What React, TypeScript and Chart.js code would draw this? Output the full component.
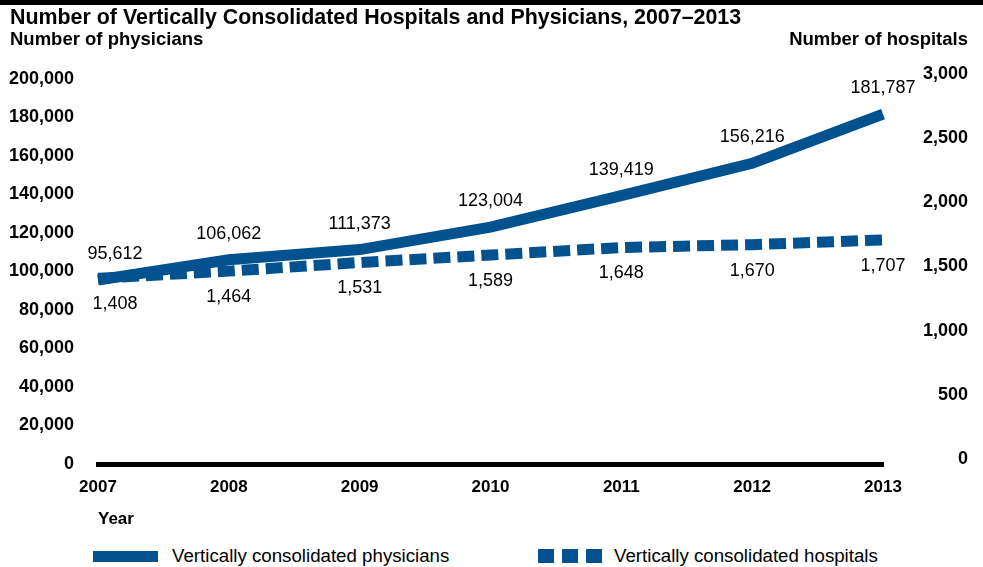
import React, { useEffect, useRef } from 'react';
import { Chart, registerables } from 'chart.js';

Chart.register(...registerables);

const years = ['2007', '2008', '2009', '2010', '2011', '2012', '2013'];
const physicians = [95612, 106062, 111373, 123004, 139419, 156216, 181787];
const hospitals = [1408, 1464, 1531, 1589, 1648, 1670, 1707];
const physicianTicks = [0, 20000, 40000, 60000, 80000, 100000, 120000, 140000, 160000, 180000, 200000];
const hospitalTicks = [0, 500, 1000, 1500, 2000, 2500, 3000];

const TITLE = 'Number of Vertically Consolidated Hospitals and Physicians, 2007–2013';
const LEFT_TITLE = 'Number of physicians';
const RIGHT_TITLE = 'Number of hospitals';
const SERIES_NAMES = ['Vertically consolidated physicians', 'Vertically consolidated hospitals'];

const BLUE = '#02528f';
const FONT = '"Liberation Sans", Arial, Helvetica, sans-serif';

const fmt = (v: number) => Number(v).toLocaleString('en-US');

const headerPlugin = {
  id: 'headerText',
  afterDraw(chart: any) {
    const ctx = chart.ctx;
    ctx.save();
    ctx.fillStyle = '#000';
    ctx.textBaseline = 'middle';
    ctx.font = `bold 21.4px ${FONT}`;
    ctx.textAlign = 'left';
    ctx.fillText(TITLE, 10, 18);
    ctx.font = `bold 18.5px ${FONT}`;
    ctx.fillText(LEFT_TITLE, 10, 40);
    ctx.textAlign = 'right';
    ctx.fillText(RIGHT_TITLE, 968, 40);
    ctx.restore();
  },
};

const valueLabelPlugin = {
  id: 'valueLabels',
  afterDatasetsDraw(chart: any) {
    const ctx = chart.ctx;
    ctx.save();
    ctx.fillStyle = '#000';
    ctx.font = `18px ${FONT}`;
    ctx.textAlign = 'center';
    ctx.textBaseline = 'middle';
    chart.data.datasets.forEach((ds: any, di: number) => {
      const meta = chart.getDatasetMeta(di);
      meta.data.forEach((pt: any, i: number) => {
        const dx = i === 0 ? 17 : 0;
        const dy = di === 0 ? -26 : 26;
        ctx.fillText(fmt(ds.data[i]), pt.x + dx, pt.y + dy);
      });
    });
    ctx.restore();
  },
};

export default function App() {
  const ref = useRef<HTMLCanvasElement | null>(null);

  useEffect(() => {
    if (!ref.current) return;
    const chart = new Chart(ref.current, {
      type: 'line',
      data: {
        labels: years,
        datasets: [
          {
            label: SERIES_NAMES[0],
            data: physicians,
            yAxisID: 'y',
            borderColor: BLUE,
            backgroundColor: BLUE,
            borderWidth: 11,
            pointRadius: 0,
            tension: 0,
            fill: false,
          },
          {
            label: SERIES_NAMES[1],
            data: hospitals,
            yAxisID: 'y1',
            borderColor: BLUE,
            backgroundColor: BLUE,
            borderWidth: 11,
            borderDash: [17, 7],
            pointRadius: 0,
            tension: 0,
            fill: false,
          },
        ],
      },
      options: {
        responsive: false,
        animation: false,
        layout: { padding: { top: 74, left: 0, right: 15, bottom: 0 } },
        plugins: {
          legend: { display: false },
          title: { display: false },
          tooltip: { enabled: false },
        },
        scales: {
          x: {
            type: 'category',
            offset: false,
            grid: { display: false, drawTicks: false },
            border: { display: true, color: '#000', width: 5 },
            ticks: {
              color: '#000',
              font: { family: FONT, size: 17, weight: 'bold' },
              padding: 13,
              maxRotation: 0,
              autoSkip: false,
            },
            title: {
              display: true,
              text: 'Year',
              align: 'start',
              color: '#000',
              font: { family: FONT, size: 17, weight: 'bold' },
              padding: { top: 0, bottom: 5 },
            },
            afterFit: (s: any) => {
              s.height = 71;
            },
          },
          y: {
            type: 'linear',
            position: 'left',
            min: 0,
            max: 200000 * (1 + 5 / 385),
            grid: { display: false, drawTicks: false },
            border: { display: false },
            afterBuildTicks: (s: any) => {
              s.ticks = physicianTicks.map((v) => ({ value: v }));
            },
            ticks: {
              color: '#000',
              font: { family: FONT, size: 18, weight: 'bold' },
              padding: 24,
              callback: (v: any) => fmt(v),
            },
            afterFit: (s: any) => {
              s.width = 98;
            },
          },
          y1: {
            type: 'linear',
            position: 'right',
            min: -3000 * (5 / 385),
            max: 3000,
            grid: { display: false, drawTicks: false },
            border: { display: false },
            afterBuildTicks: (s: any) => {
              s.ticks = hospitalTicks.map((v) => ({ value: v }));
            },
            ticks: {
              color: '#000',
              font: { family: FONT, size: 18, weight: 'bold' },
              padding: 25,
              crossAlign: 'far',
              callback: (v: any) => fmt(v),
            },
            afterFit: (s: any) => {
              s.width = 85;
            },
          },
        },
      },
      plugins: [headerPlugin, valueLabelPlugin],
    } as any);
    return () => chart.destroy();
  }, []);

  const textStyle: React.CSSProperties = {
    position: 'absolute',
    top: 556,
    transform: 'translateY(-50%)',
    fontFamily: FONT,
    fontSize: '18.7px',
    color: '#000',
    whiteSpace: 'nowrap',
    lineHeight: 1,
  };
  const square = (left: number): React.CSSProperties => ({
    position: 'absolute',
    left,
    top: 549,
    width: 16,
    height: 14,
    background: BLUE,
  });

  return (
    <div
      style={{
        position: 'absolute',
        left: 0,
        top: 0,
        width: 983,
        height: 567,
        background: '#fff',
        overflow: 'hidden',
      }}
    >
      <canvas ref={ref} width={983} height={535} style={{ position: 'absolute', left: 0, top: 0, width: 983, height: 535 }} />
      <div style={{ position: 'absolute', left: 0, top: 0, width: 983, height: 5, background: '#000' }} />
      <div style={{ position: 'absolute', left: 93, top: 551, width: 65, height: 11, background: BLUE }} />
      <div style={{ ...textStyle, left: 172 }}>{SERIES_NAMES[0]}</div>
      <div style={square(538)} />
      <div style={square(562)} />
      <div style={square(586)} />
      <div style={{ ...textStyle, left: 614 }}>{SERIES_NAMES[1]}</div>
    </div>
  );
}
